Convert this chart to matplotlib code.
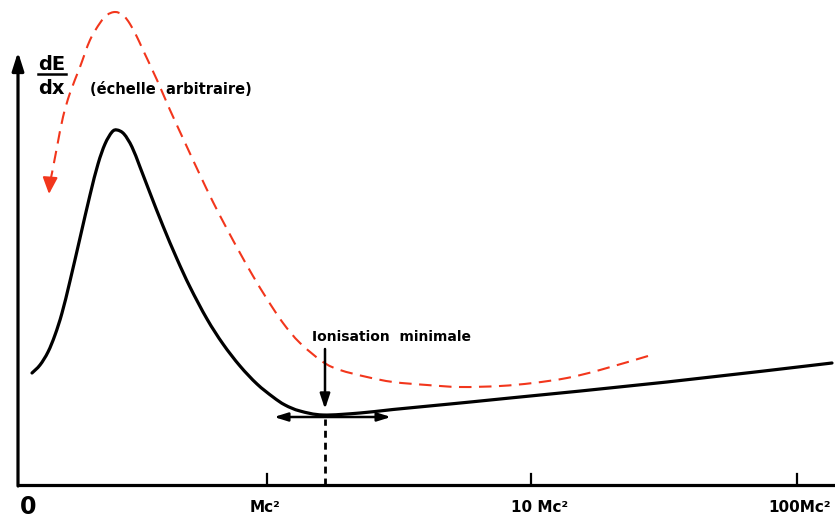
import numpy as np
import matplotlib
matplotlib.use("Agg")
import matplotlib.pyplot as plt
from matplotlib.path import Path
from matplotlib.patches import PathPatch

plt.rcParams.update({'font.family': 'DejaVu Sans', 'font.weight': 'bold'})

# courbe noire (perte d'energie, echelle arbitraire)
black_x = [32, 40, 48, 55, 62, 70, 80, 90, 98, 105, 112, 117, 124, 132, 140, 150,
           163, 177, 190, 207, 223, 240, 257, 273, 285, 300, 323, 360, 393, 450, 510, 667, 832]
black_y = [112, 120, 133, 150, 172, 204, 247, 290, 321, 341, 353, 355, 351, 338, 318, 292,
           259, 226, 198, 166, 141, 119, 101, 88, 80, 74, 70, 72, 75.5, 81, 87, 103, 122]

# courbe rouge en tirets (parcours de droite a gauche)
red_x = [648, 600, 567, 533, 500, 460, 427, 393, 367, 340, 323, 300, 283, 267, 253, 240,
         227, 213, 200, 187, 170, 157, 143, 137, 130, 123, 115, 107, 100, 90, 80, 70, 63, 57, 52, 50]
red_y = [129, 115, 107, 102, 99, 98, 100, 103, 108, 115, 123, 142, 162, 186, 209, 232,
         256, 283, 310, 338, 375, 405, 435, 448, 461, 470, 473, 470, 462, 445, 418, 392, 368, 338, 312, 303]
red_tip = (49, 291)

tick_x = [267, 531, 797]
tick_labels = ['Mc²', '10 Mc²', '100Mc²']
label_x = [265, 540, 800]
x_min = 325  # ionisation minimale

red = '#f2361c'


def smooth_path(xs, ys):
    # trace lisse passant par les points (Catmull-Rom -> Bezier)
    p = np.column_stack([xs, ys]).astype(float)
    verts = [p[0]]
    codes = [Path.MOVETO]
    for i in range(len(p) - 1):
        p0 = p[i - 1] if i > 0 else p[i]
        p3 = p[i + 2] if i + 2 < len(p) else p[i + 1]
        c1 = p[i] + (p[i + 1] - p0) / 6
        c2 = p[i + 1] - (p3 - p[i]) / 6
        verts += [c1, c2, p[i + 1]]
        codes += [Path.CURVE4] * 3
    return Path(verts, codes)


fig = plt.figure(figsize=(8.35, 5.25), dpi=100)
ax = fig.add_axes([0, 0, 1, 1])
ax.set_xlim(0, 835)
ax.set_ylim(-40, 485)
ax.axis('off')

# axes
ax.plot([17, 835], [0, 0], color='black', lw=2.3, solid_capstyle='butt')
ax.annotate('', xy=(18, 433), xytext=(18, -1),
            arrowprops=dict(arrowstyle='-|>,head_width=0.35,head_length=1.1',
                            color='black', lw=2.3, shrinkA=0, shrinkB=0))
for tx in tick_x:
    ax.plot([tx, tx], [0, 11], color='black', lw=1.6)

ax.text(28, -22, '0', fontsize=17, ha='center', va='center')
for lx, lab in zip(label_x, tick_labels):
    ax.text(lx, -23, lab, fontsize=11, ha='center', va='center')

# courbes
ax.add_patch(PathPatch(smooth_path(black_x, black_y), fill=False, edgecolor='black',
                       lw=2.3, capstyle='round', joinstyle='round'))
ax.add_patch(PathPatch(smooth_path(red_x, red_y), fill=False, edgecolor=red,
                       lw=1.5, linestyle=(0, (6, 3.6))))
ax.annotate('', xy=red_tip, xytext=(red_x[-1], red_y[-1] + 2),
            arrowprops=dict(arrowstyle='-|>,head_width=0.45,head_length=1.0',
                            color=red, lw=1.5, shrinkA=0, shrinkB=0))

# ionisation minimale
ax.text(392, 148, 'Ionisation  minimale', fontsize=10, ha='center', va='center')
ax.annotate('', xy=(x_min, 76), xytext=(x_min, 136),
            arrowprops=dict(arrowstyle='-|>,head_width=0.3,head_length=0.9',
                            color='black', lw=1.8, shrinkA=0, shrinkB=0))
ax.annotate('', xy=(274, 68), xytext=(391, 68),
            arrowprops=dict(arrowstyle='<|-|>,head_width=0.25,head_length=0.8',
                            color='black', lw=1.8, shrinkA=0, shrinkB=0))
ax.plot([x_min, x_min], [0, 66], color='black', lw=2.0, dashes=(2.5, 1.8))

# etiquette de l'axe vertical
ax.text(38, 420, 'dE', fontsize=14, ha='left', va='center')
ax.plot([38, 66], [411, 411], color='black', lw=1.8)
ax.text(38, 397, 'dx', fontsize=14, ha='left', va='center')
ax.text(90, 395, '(échelle  arbitraire)', fontsize=10.5, ha='left', va='center')

fig.savefig('out.png', dpi=100)
